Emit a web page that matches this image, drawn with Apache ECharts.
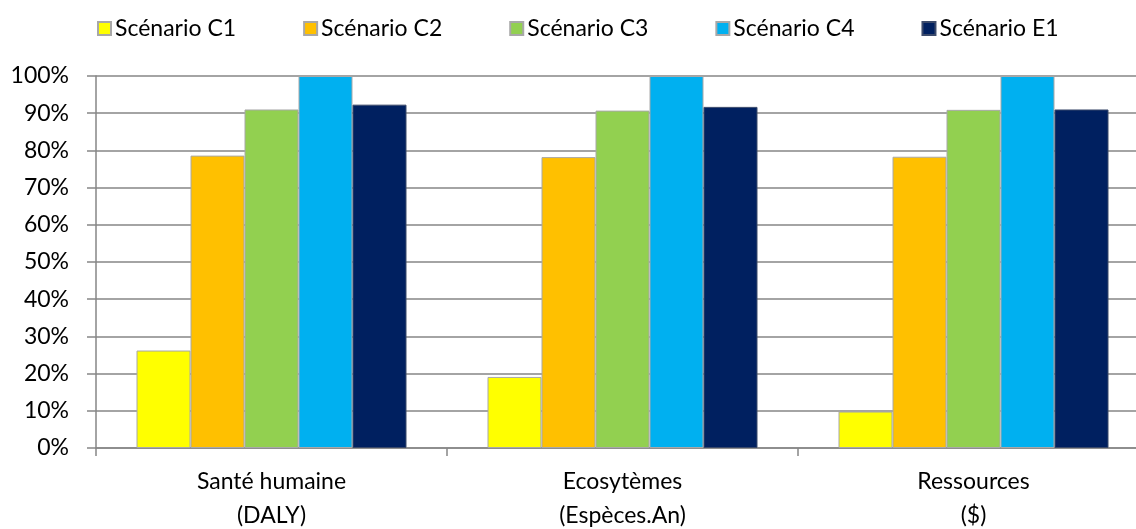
<!DOCTYPE html>
<html>
<head>
<meta charset="utf-8">
<script src="https://cdn.jsdelivr.net/npm/echarts@6/dist/echarts.min.js"></script>
<style>
html,body{margin:0;padding:0;background:#fff;}
#chart{width:1136px;height:529px;}
</style>
</head>
<body>
<div id="chart"></div>
<script>
const categories = ['Santé humaine\n(DALY)', 'Ecosytèmes\n(Espèces.An)', 'Ressources\n($)'];
const seriesNames = ['Scénario C1', 'Scénario C2', 'Scénario C3', 'Scénario C4', 'Scénario E1'];
const scenarioC1 = [26.2, 19.1, 9.8];
const scenarioC2 = [78.6, 78.2, 78.3];
const scenarioC3 = [91.0, 90.7, 90.9];
const scenarioC4 = [100, 100, 100];
const scenarioE1 = [92.3, 91.7, 91.0];
const yTicks = { min: 0, max: 100, interval: 10 };

const colors = ['#FFFF00', '#FFC000', '#92D050', '#00B0F0', '#002060'];
const values = [scenarioC1, scenarioC2, scenarioC3, scenarioC4, scenarioE1];
const FONT = 'Lato';
const FS = 23;

const chart = echarts.init(document.getElementById('chart'), null, { renderer: 'canvas' });
chart.setOption({
  animation: false,
  backgroundColor: '#fff',
  color: colors,
  textStyle: { fontFamily: FONT, color: '#000' },
  legend: {
    left: 97, top: 17,
    padding: 0,
    icon: 'rect',
    itemWidth: 13, itemHeight: 13,
    itemGap: 67,
    textStyle: { fontFamily: FONT, fontSize: FS, color: '#000', padding: [0, 0, 0, -1] },
    data: seriesNames
  },
  grid: { left: 96, top: 76, width: 1053, height: 372, outerBoundsMode: 'none', containLabel: false },
  xAxis: {
    type: 'category',
    data: categories,
    axisLine: { lineStyle: { color: '#868686', width: 1.5 } },
    axisTick: { show: true, length: 8, alignWithLabel: false, lineStyle: { color: '#868686', width: 1.5 } },
    axisLabel: { fontFamily: FONT, fontSize: FS, color: '#000', lineHeight: 34, margin: 17, interval: 0 }
  },
  yAxis: {
    type: 'value',
    min: yTicks.min, max: yTicks.max, interval: yTicks.interval,
    axisLine: { show: true, lineStyle: { color: '#868686', width: 1.5 } },
    axisTick: { show: true, length: 9, lineStyle: { color: '#868686', width: 1.5 } },
    splitLine: { show: true, lineStyle: { color: '#868686', width: 1.5 } },
    axisLabel: { fontFamily: FONT, fontSize: FS, color: '#000', formatter: '{value}%', margin: 27 }
  },
  series: seriesNames.map((name, i) => ({
    name: name,
    type: 'bar',
    data: values[i],
    barWidth: 54,
    barGap: '0%',
    itemStyle: { color: colors[i], borderColor: i === 4 ? '#3b4a6b' : '#a8a8a8', borderWidth: 1 }
  }))
});
</script>
</body>
</html>
